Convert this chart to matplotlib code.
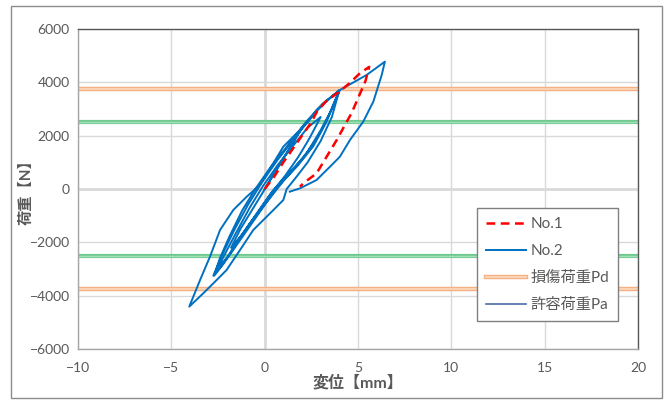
import matplotlib
matplotlib.use("Agg")
import matplotlib.pyplot as plt
from matplotlib.lines import Line2D
from matplotlib.patches import Rectangle

plt.rcParams['font.family'] = ['Lato', 'Noto Sans CJK JP', 'DejaVu Sans']

# No.1 : single loop (displacement mm, load N)
no1_disp = [0, 0.5, 1.0, 1.5, 2.0, 2.5, 2.8, 3.3, 4.0, 4.6, 5.1, 5.6,
            5.4, 5.0, 4.65, 4.3, 3.86, 3.32, 2.78, 2.07, 1.89]
no1_load = [0, 450, 1000, 1500, 2000, 2500, 2900, 3300, 3650, 4000, 4340, 4580,
            4050, 3400, 2840, 2400, 1837, 1212, 587, 212, 87]

# No.2 : cyclic loading
no2_disp = [0, 0.6, 1.3, 2.0,
            1.5, 0.8, 0.1, -0.6, -1.3, -1.8,
            -1.2, -0.5, 0.3, 1.1, 1.8, 2.4, 3.0,
            2.3, 1.5, 0.7, -0.1, -0.8, -1.5, -2.1, -2.5,
            -1.8, -1.1, -0.3, 0.6, 1.5, 2.3, 3.0, 3.6, 4.03,
            3.3, 2.5, 1.6, 0.7, -0.1, -0.9, -1.6, -2.3, -2.75,
            -2.0, -1.3, -0.5, 0.4, 1.3, 2.1, 2.8, 3.4, 4.0,
            3.1, 2.2, 1.2, 0.3, -0.5, -1.2, -1.9, -2.4, -2.7,
            -2.2, -1.6, -0.8, 0.1, 1.0, 1.8, 2.6, 3.3, 4.0,
            3.6, 3.0, 2.3, 1.71, 1.18, 1.0, 0.29, -0.61, -1.32, -2.04, -2.57, -3.29, -4.04,
            -3.46, -2.93, -2.39, -1.68, -0.96, -0.25, 0.46, 1.0, 1.71, 2.34, 2.78,
            3.5, 4.03, 4.57, 5.46, 6.44,
            6.27, 5.82, 5.28, 4.57, 4.03, 3.68, 2.78, 2.25, 1.89, 1.35]
no2_load = [0, 700, 1500, 2300,
            1700, 900, 100, -700, -1500, -2200,
            -1700, -1000, -200, 500, 1200, 1900, 2700,
            2300, 1600, 900, 100, -700, -1600, -2400, -2950,
            -2400, -1700, -900, 0, 700, 1400, 2200, 3000, 3712,
            3300, 2700, 1900, 1100, 300, -600, -1500, -2500, -3250,
            -2600, -1800, -1000, -100, 600, 1200, 1900, 2700, 3700,
            3200, 2500, 1600, 800, 0, -800, -1800, -2600, -3250,
            -2800, -2100, -1300, -500, 300, 900, 1600, 2500, 3700,
            2700, 1800, 1000, 462, 0, -412, -912, -1537, -2287, -3037, -3412, -3912, -4412,
            -3412, -2537, -1537, -787, -287, 150, 962, 1587, 2087, 2525, 2962,
            3400, 3712, 3925, 4275, 4775,
            4275, 3275, 2525, 1837, 1212, 962, 337, 150, 25, -100]

Pd = 3750   # 損傷荷重
Pa = 2500   # 許容荷重

x_ticks = [-10, -5, 0, 5, 10, 15, 20]
y_ticks = [-6000, -4000, -2000, 0, 2000, 4000, 6000]

text_gray = "#595959"

fig = plt.figure(figsize=(6.65, 4.0), dpi=100)
ax = fig.add_axes([78 / 665, 1 - 349 / 400, 560 / 665, 320 / 400])

# outer chart border
fig.patches.append(Rectangle((11 / 665, 2 / 400), 651 / 665, 392 / 400,
                             transform=fig.transFigure, fill=False,
                             edgecolor="#8c8c8c", linewidth=1.0))

ax.set_xlim(-10, 20)
ax.set_ylim(-6000, 6000)
ax.set_xticks(x_ticks)
ax.set_yticks(y_ticks)
ax.grid(True, color="#d9d9d9", linewidth=1.0, zorder=0)
ax.tick_params(length=0, labelsize=10, colors=text_gray, pad=6)
ax.tick_params(axis="x", pad=9)

for side in ["top", "right"]:
    ax.spines[side].set_color(text_gray)
for side in ["left", "bottom"]:
    ax.spines[side].set_color("#a6a6a6")
for s in ax.spines.values():
    s.set_linewidth(1.0)

ax.axhline(0, color=text_gray, linewidth=1.0, zorder=1)
ax.axvline(0, color=text_gray, linewidth=1.0, zorder=1)

# design load lines (double-line style)
for v in [Pd, -Pd]:
    ax.axhline(v, color="#f4b183", linewidth=3.2, zorder=2)
    ax.axhline(v, color="#fbd3b6", linewidth=1.4, zorder=2)
for v in [Pa, -Pa]:
    ax.axhline(v, color="#70c98f", linewidth=3.0, zorder=2)
    ax.axhline(v, color="#a3e0b8", linewidth=1.0, zorder=2)

ax.plot(no2_disp, no2_load, color="#0070c0", linewidth=1.4, zorder=3)
ax.plot(no1_disp, no1_load, color="#ff0000", linewidth=1.8,
        linestyle=(0, (3.5, 2.2)), zorder=4)

ax.set_xlabel("変位【mm】", fontsize=11.5, color=text_gray, fontweight="bold", labelpad=1)
ax.set_ylabel("荷重【N】", fontsize=11, color=text_gray, fontweight="bold", labelpad=-3)

handles = [
    Line2D([], [], color="#ff0000", linewidth=1.8, linestyle=(0, (3.5, 2.2))),
    Line2D([], [], color="#0070c0", linewidth=1.4),
    (Line2D([], [], color="#f4b183", linewidth=3.2),
     Line2D([], [], color="#fbd3b6", linewidth=1.4)),
    Line2D([], [], color="#4a6da7", linewidth=1.2),
]
labels = ["No.1", "No.2", "損傷荷重Pd", "許容荷重Pa"]
leg = ax.legend(handles, labels, loc="upper left",
                bbox_to_anchor=((477 - 78) / 560, (349 - 208) / 320),
                fontsize=11, frameon=True, fancybox=False, framealpha=1,
                edgecolor="#808080", handlelength=2.6, handletextpad=0.3,
                labelspacing=0.85, borderpad=0.6, borderaxespad=0)
leg.get_frame().set_linewidth(1.0)
for t in leg.get_texts():
    t.set_color(text_gray)

fig.savefig("out.png", dpi=100)
